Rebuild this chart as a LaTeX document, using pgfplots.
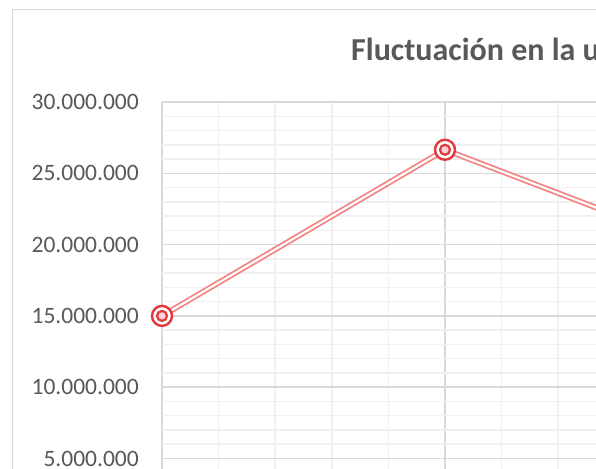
\documentclass[border=0pt]{standalone}
\usepackage{pgfplots}
\pgfplotsset{compat=1.18}
\usepackage{fontspec}
\setmainfont{Carlito}
\definecolor{txt}{HTML}{595959}
\definecolor{gmaj}{HTML}{D9D9D9}
\definecolor{gmin}{HTML}{F0F0F0}
\definecolor{lred}{HTML}{F47F81}
\definecolor{mred}{HTML}{E0393E}
\definecolor{pfill}{HTML}{FBD3D4}
\begin{document}
\begin{tikzpicture}[x=1pt,y=1pt]
\useasboundingbox (0,0) rectangle (596,468);
\clip (0,0) rectangle (596,468);
\fill[white] (0,0) rectangle (596,468);
\draw[gmaj, line width=1.5pt] (12.5,-5) -- (12.5,458.5) -- (605,458.5);
\node[anchor=base west, text=txt, font=\fontsize{32}{37}\selectfont\bfseries, inner sep=0pt] at (351,407.3) {Fluctuación en la utilidad};
\begin{axis}[
  at={(162pt,366pt)}, anchor=north west, scale only axis,
  x=283pt, y=14.26pt,
  xmin=0, xmax=2, ymin=0, ymax=30,
  clip=false,
  axis line style={draw=none},
  major tick length=0pt, minor tick length=0pt,
  xtick={0,1,2}, minor x tick num=4, xticklabels={},
  ytick={0,5,10,15,20,25,30}, minor y tick num=4,
  yticklabels={0,5.000.000,10.000.000,15.000.000,20.000.000,25.000.000,30.000.000},
  grid=both,
  major grid style={gmaj, line width=1.5pt},
  minor grid style={gmin, line width=1.5pt},
  yticklabel style={font=\fontsize{23.5}{27}\selectfont, text=txt, inner sep=0pt, anchor=east, xshift=-23pt},
]
\addplot[lred, line width=1.7pt, double=white, double distance=2.2pt, mark=none]
  coordinates {(0,15) (1,26.65) (2,19.05)};
\addplot[only marks, mark=*, mark size=10pt,
  mark options={draw=mred, fill=white, line width=2.4pt}]
  coordinates {(0,15) (1,26.65) (2,19.05)};
\addplot[only marks, mark=*, mark size=5pt,
  mark options={draw=mred, fill=pfill, line width=2.2pt}]
  coordinates {(0,15) (1,26.65) (2,19.05)};
\end{axis}
\end{tikzpicture}
\end{document}
